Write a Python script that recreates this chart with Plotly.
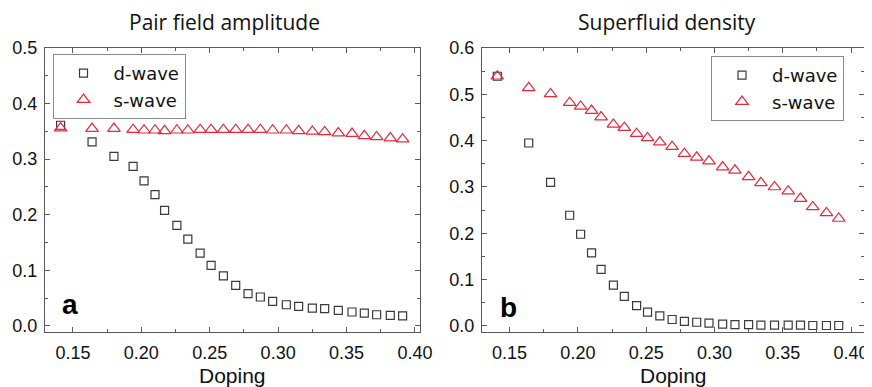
import plotly.graph_objects as go

doping = [0.141, 0.164, 0.180, 0.194, 0.202, 0.210, 0.217, 0.226, 0.234, 0.243,
          0.251, 0.260, 0.269, 0.278, 0.287, 0.296, 0.306, 0.315, 0.325, 0.334,
          0.344, 0.354, 0.363, 0.372, 0.382, 0.391]

pair_d = [0.361, 0.331, 0.305, 0.287, 0.261, 0.236, 0.208, 0.181, 0.156, 0.131,
          0.109, 0.090, 0.073, 0.058, 0.052, 0.044, 0.038, 0.035, 0.032, 0.031,
          0.028, 0.025, 0.023, 0.020, 0.019, 0.018]
pair_s = [0.356, 0.355, 0.355, 0.353, 0.352, 0.352, 0.351, 0.352, 0.352, 0.353,
          0.353, 0.353, 0.353, 0.353, 0.353, 0.352, 0.352, 0.351, 0.350, 0.349,
          0.347, 0.346, 0.342, 0.340, 0.338, 0.336]

sf_d = [0.539, 0.395, 0.310, 0.239, 0.198, 0.158, 0.122, 0.088, 0.064, 0.044,
        0.030, 0.022, 0.014, 0.010, 0.008, 0.006, 0.004, 0.003, 0.003, 0.002,
        0.002, 0.002, 0.002, 0.001, 0.001, 0.001]
sf_s = [0.539, 0.514, 0.501, 0.482, 0.474, 0.465, 0.451, 0.435, 0.428, 0.415,
        0.406, 0.397, 0.387, 0.372, 0.364, 0.356, 0.343, 0.336, 0.322, 0.309,
        0.300, 0.291, 0.275, 0.257, 0.244, 0.232]

series_names = ["d-wave", "s-wave"]
titles = ["Pair field amplitude", "Superfluid density"]
panel_labels = ["a", "b"]
x_label = "Doping"

# page body has an 8px margin: figure is drawn offset by (8, 8)
OFF = 8
W, H = 872 - OFF, 387 - OFF

def px(x):
    return (x - OFF) / W

def py(y):
    return 1 - (y - OFF) / H

DCOL = "#3a3a3a"
SCOL = "#e8283a"
AXC = "#5a5a5a"
FONT = "Arial, Liberation Sans, sans-serif"
LFONT = "DejaVu Sans, Arial, sans-serif"

fig = go.Figure()

fig.add_trace(go.Scatter(x=doping, y=pair_d, mode="markers", name=series_names[0],
                         marker=dict(symbol="square-open", size=8, color=DCOL, line=dict(width=1.2, color=DCOL)),
                         xaxis="x", yaxis="y", legend="legend"))
fig.add_trace(go.Scatter(x=doping, y=pair_s, mode="markers", name=series_names[1],
                         marker=dict(symbol="triangle-up-open", size=11, color=SCOL, line=dict(width=1.2, color=SCOL)),
                         xaxis="x", yaxis="y", legend="legend"))
fig.add_trace(go.Scatter(x=doping, y=sf_d, mode="markers", name=series_names[0],
                         marker=dict(symbol="square-open", size=8, color=DCOL, line=dict(width=1.2, color=DCOL)),
                         xaxis="x2", yaxis="y2", legend="legend2"))
fig.add_trace(go.Scatter(x=doping, y=sf_s, mode="markers", name=series_names[1],
                         marker=dict(symbol="triangle-up-open", size=11, color=SCOL, line=dict(width=1.2, color=SCOL)),
                         xaxis="x2", yaxis="y2", legend="legend2"))

ydom = [py(332), py(48)]

def xax(dom, anchor, rng):
    return dict(domain=dom, anchor=anchor, range=rng, tickmode="linear", tick0=0.15, dtick=0.05,
                tickformat=".2f", ticks="inside", ticklen=5, tickwidth=1.2, tickcolor=AXC, automargin=False,
                showline=True, linecolor=AXC, linewidth=1.4, mirror="allticks", showgrid=False, zeroline=False,
                minor=dict(ticks="inside", ticklen=3, tickwidth=1, tickcolor=AXC, dtick=0.025, tick0=0.125, showgrid=False),
                tickfont=dict(family=FONT, size=18, color="#111"), ticklabelstandoff=4)

def yax(anchor, rng):
    return dict(domain=ydom, anchor=anchor, range=rng, tickmode="linear", tick0=0, dtick=0.1,
                tickformat=".1f", ticks="inside", ticklen=5, tickwidth=1.2, tickcolor=AXC, automargin=False,
                showline=True, linecolor=AXC, linewidth=1.4, mirror="allticks", showgrid=False, zeroline=False,
                minor=dict(ticks="inside", ticklen=3, tickwidth=1, tickcolor=AXC, dtick=0.05, showgrid=False),
                tickfont=dict(family=FONT, size=18, color="#111"), ticklabelstandoff=3)

fig.update_layout(
    width=W, height=H,
    margin=dict(l=0, r=0, t=0, b=0, autoexpand=False),
    paper_bgcolor="white", plot_bgcolor="white",
    xaxis=xax([px(45), px(420)], "y", [0.1296, 0.4037]),
    yaxis=yax("x", [-0.011, 0.5]),
    xaxis2=xax([px(482), px(864)], "y2", [0.1298, 0.4095]),
    yaxis2=yax("x2", [-0.013, 0.6]),
    legend=dict(x=px(52.5), y=py(54), xanchor="left", yanchor="top",
                bordercolor="#8a8a8a", borderwidth=1, bgcolor="white",
                font=dict(family=LFONT, size=18, color="#111"), itemwidth=50, tracegroupgap=0),
    legend2=dict(x=px(711), y=py(56), xanchor="left", yanchor="top",
                 bordercolor="#8a8a8a", borderwidth=1, bgcolor="white",
                 font=dict(family=LFONT, size=18, color="#111"), itemwidth=50, tracegroupgap=0),
    showlegend=True,
)

ann = []
for cx, t in zip([225, 667], titles):
    ann.append(dict(x=px(cx), y=py(22), xref="paper", yref="paper", text=t, showarrow=False,
                    font=dict(family="Open Sans, sans-serif", size=21, color="#111"),
                    xanchor="center", yanchor="middle"))
for cx in [232, 673]:
    ann.append(dict(x=px(cx), y=py(375), xref="paper", yref="paper", text=x_label, showarrow=False,
                    font=dict(family=FONT, size=21, color="#111"), xanchor="center", yanchor="middle"))
for (cx, cy), t in zip([(70, 304), (508, 307)], panel_labels):
    ann.append(dict(x=px(cx), y=py(cy), xref="paper", yref="paper", text="<b>" + t + "</b>", showarrow=False,
                    font=dict(family=FONT, size=28, color="#000"), xanchor="center", yanchor="middle"))
fig.update_layout(annotations=ann)

fig.write_html("out.html")
